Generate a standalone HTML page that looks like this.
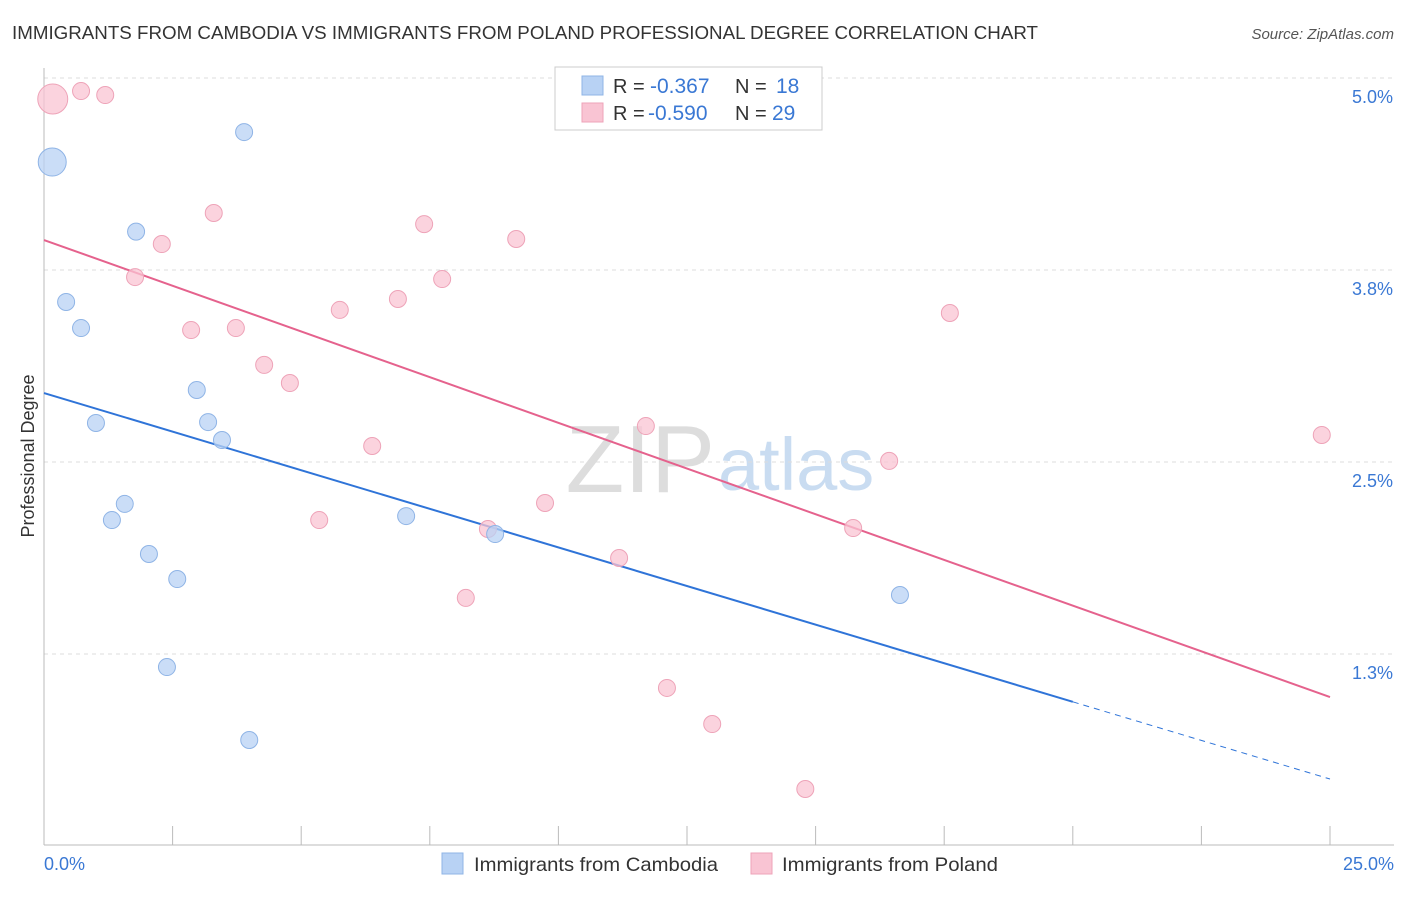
<!DOCTYPE html>
<html><head><meta charset="utf-8"><style>
body{margin:0;background:#fff;font-family:"Liberation Sans",sans-serif;}
svg text{font-family:"Liberation Sans",sans-serif;}
</style></head><body>
<svg id="chart" width="1406" height="892" viewBox="0 0 1406 892" xmlns="http://www.w3.org/2000/svg">
<text x="12" y="39" font-size="18" fill="#333" textLength="1026" lengthAdjust="spacingAndGlyphs">IMMIGRANTS FROM CAMBODIA VS IMMIGRANTS FROM POLAND PROFESSIONAL DEGREE CORRELATION CHART</text>
<text x="1394" y="39" font-size="15" fill="#555" font-style="italic" text-anchor="end">Source: ZipAtlas.com</text>
<text x="715" y="492" font-size="96" fill="#ddd" font-family="Liberation Serif" text-anchor="end">ZIP</text>
<text x="718" y="490" font-size="74" fill="#c9dcf1">atlas</text>
<g id="grid"></g>
<g id="axes"></g>
<g id="lines"></g>
<g id="points"></g>
<text transform="translate(34,456) rotate(-90)" font-size="18" fill="#333" text-anchor="middle">Professional Degree</text>
<g>
<rect x="555" y="67" width="267" height="63" fill="#fff" stroke="#ccc"/>
<rect x="582" y="76" width="21" height="19" fill="#b8d2f4" stroke="#8fb4e6"/>
<rect x="582" y="103" width="21" height="19" fill="#f9c4d3" stroke="#eea3b8"/>
<text x="613" y="93" font-size="20" fill="#333">R = </text><text x="650" y="93" font-size="21" fill="#3a78d4">-0.367</text>
<text x="735" y="93" font-size="20" fill="#333">N = </text><text x="776" y="93" font-size="21" fill="#3a78d4">18</text>
<text x="613" y="120" font-size="20" fill="#333">R = </text><text x="648" y="120" font-size="21" fill="#3a78d4">-0.590</text>
<text x="735" y="120" font-size="20" fill="#333">N = </text><text x="772" y="120" font-size="21" fill="#3a78d4">29</text>
</g>
<g>
<rect x="442" y="853" width="21" height="21" fill="#b8d2f4" stroke="#8fb4e6"/>
<text x="474" y="871" font-size="19.5" fill="#333" textLength="244" lengthAdjust="spacingAndGlyphs">Immigrants from Cambodia</text>
<rect x="751" y="853" width="21" height="21" fill="#f9c4d3" stroke="#eea3b8"/>
<text x="782" y="871" font-size="19.5" fill="#333" textLength="216" lengthAdjust="spacingAndGlyphs">Immigrants from Poland</text>
</g>
</svg>
<script>
const yTicks=[5.0,3.75,2.5,1.25];
const yTickLabels=["5.0%","3.8%","2.5%","1.3%"];
const xTicks=[0,2.5,5,7.5,10,12.5,15,17.5,20,22.5,25];
const xEndLabels=["0.0%","25.0%"];
const cambodiaX=[0.16,3.89,1.79,0.43,0.72,2.97,1.01,3.19,3.46,1.57,1.32,7.04,8.77,2.04,2.59,16.64,2.39,3.99];
const cambodiaY=[4.453,4.648,4.0,3.542,3.372,2.969,2.754,2.760,2.643,2.227,2.122,2.148,2.031,1.901,1.738,1.634,1.165,0.690];
const cambodiaSize=[14,8.5,8.5,8.5,8.5,8.5,8.5,8.5,8.5,8.5,8.5,8.5,8.5,8.5,8.5,8.5,8.5,8.5];
const polandX=[0.17,0.72,1.19,3.30,2.29,7.39,9.18,1.77,7.74,6.88,5.75,17.61,2.86,3.73,4.28,4.78,11.70,24.84,6.38,16.43,9.74,5.35,8.63,15.73,11.18,8.20,12.11,12.99,14.80];
const polandY=[4.863,4.915,4.889,4.121,3.919,4.049,3.952,3.704,3.691,3.561,3.490,3.470,3.359,3.372,3.132,3.014,2.734,2.676,2.604,2.507,2.233,2.122,2.064,2.070,1.875,1.615,1.029,0.794,0.371];
const polandSize=[15,8.5,8.5,8.5,8.5,8.5,8.5,8.5,8.5,8.5,8.5,8.5,8.5,8.5,8.5,8.5,8.5,8.5,8.5,8.5,8.5,8.5,8.5,8.5,8.5,8.5,8.5,8.5,8.5];
const cambodiaTrend=[2.949,0.436];
const polandTrend=[3.945,0.970];
const cambodiaSolidEnd=20.0;

const NS="http://www.w3.org/2000/svg";
const X=v=>44+v*51.44;
const Y=v=>78+(5-v)*153.6;
function mk(tag,attrs,parent){const e=document.createElementNS(NS,tag);for(const k in attrs)e.setAttribute(k,attrs[k]);document.getElementById(parent).appendChild(e);return e;}
yTicks.forEach((t,i)=>{
 const l=mk('line',{x1:44,x2:1394,y1:Y(t),y2:Y(t),stroke:'#ddd','stroke-dasharray':'4,4'},'grid');
 
 
 const tx=mk('text',{x:1393,y:Y(t)+25,'font-size':18,fill:'#3a78d4','text-anchor':'end'},'grid');
 tx.textContent=yTickLabels[i];
 
 
});
const ya=mk('line',{x1:44,x2:44,y1:68,y2:845,stroke:'#bbb'},'axes');


const xa=mk('line',{x1:44,x2:1394,y1:845,y2:845,stroke:'#bbb'},'axes');


xTicks.forEach(t=>{
 const l=mk('line',{x1:X(t),x2:X(t),y1:826,y2:845,stroke:'#bbb'},'axes');
 
 
});
[[0,'start',44],[25,'end',1394]].forEach((d,i)=>{
 const tx=mk('text',{x:d[2],y:870,'font-size':18,fill:'#3a78d4','text-anchor':d[1]},'axes');
 tx.textContent=xEndLabels[i];
 
 
});
const tv=(tr,x)=>tr[0]+(tr[1]-tr[0])*x/25;
const b1=mk('line',{x1:X(0),y1:Y(tv(cambodiaTrend,0)),x2:X(cambodiaSolidEnd),y2:Y(tv(cambodiaTrend,cambodiaSolidEnd)),stroke:'#2f74d8','stroke-width':2},'lines');


const b2=mk('line',{x1:X(cambodiaSolidEnd),y1:Y(tv(cambodiaTrend,cambodiaSolidEnd)),x2:X(25),y2:Y(tv(cambodiaTrend,25)),stroke:'#2f74d8','stroke-width':1,'stroke-dasharray':'6,5'},'lines');


const p1=mk('line',{x1:X(0),y1:Y(tv(polandTrend,0)),x2:X(25),y2:Y(tv(polandTrend,25)),stroke:'#e5628d','stroke-width':2},'lines');


polandX.forEach((x,i)=>{
 const c=mk('circle',{cx:X(x),cy:Y(polandY[i]),r:polandSize[i],fill:'#f9c4d3','fill-opacity':0.75,stroke:'#eea3b8'},'points');
 
 
});
cambodiaX.forEach((x,i)=>{
 const c=mk('circle',{cx:X(x),cy:Y(cambodiaY[i]),r:cambodiaSize[i],fill:'#b8d2f4','fill-opacity':0.75,stroke:'#8fb4e6'},'points');
 
 
});
</script>
</body></html>
